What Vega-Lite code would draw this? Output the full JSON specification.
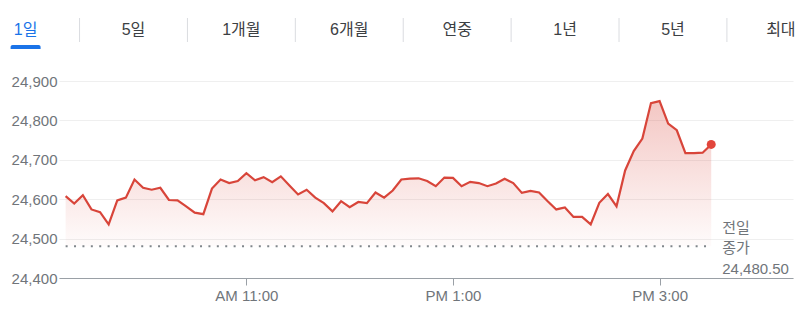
{
  "$schema": "https://vega.github.io/schema/vega-lite/v6.json",
  "background": "white",
  "padding": {"left": 10, "top": 17, "right": 16, "bottom": 5},
  "bounds": "flush",
  "spacing": 39,
  "config": {
    "view": {"stroke": null},
    "font": "Liberation Sans, Noto Sans CJK KR"
  },
  "datasets": {
    "tabs": [
      {"tab": "1일", "selected": true},
      {"tab": "5일", "selected": false},
      {"tab": "1개월", "selected": false},
      {"tab": "6개월", "selected": false},
      {"tab": "연중", "selected": false},
      {"tab": "1년", "selected": false},
      {"tab": "5년", "selected": false},
      {"tab": "최대", "selected": false}
    ],
    "prices": [
      {"time": "2020-06-01T09:15:00", "price": 24608}, {"time": "2020-06-01T09:20:00", "price": 24589}, {"time": "2020-06-01T09:25:00", "price": 24610},
      {"time": "2020-06-01T09:30:00", "price": 24574}, {"time": "2020-06-01T09:35:00", "price": 24567}, {"time": "2020-06-01T09:40:00", "price": 24536},
      {"time": "2020-06-01T09:45:00", "price": 24597}, {"time": "2020-06-01T09:50:00", "price": 24604}, {"time": "2020-06-01T09:55:00", "price": 24650},
      {"time": "2020-06-01T10:00:00", "price": 24629}, {"time": "2020-06-01T10:05:00", "price": 24624}, {"time": "2020-06-01T10:10:00", "price": 24629},
      {"time": "2020-06-01T10:15:00", "price": 24598}, {"time": "2020-06-01T10:20:00", "price": 24597}, {"time": "2020-06-01T10:25:00", "price": 24582},
      {"time": "2020-06-01T10:30:00", "price": 24566}, {"time": "2020-06-01T10:35:00", "price": 24562}, {"time": "2020-06-01T10:40:00", "price": 24627},
      {"time": "2020-06-01T10:45:00", "price": 24650}, {"time": "2020-06-01T10:50:00", "price": 24641}, {"time": "2020-06-01T10:55:00", "price": 24646},
      {"time": "2020-06-01T11:00:00", "price": 24666}, {"time": "2020-06-01T11:05:00", "price": 24648}, {"time": "2020-06-01T11:10:00", "price": 24656},
      {"time": "2020-06-01T11:15:00", "price": 24643}, {"time": "2020-06-01T11:20:00", "price": 24658}, {"time": "2020-06-01T11:25:00", "price": 24635},
      {"time": "2020-06-01T11:30:00", "price": 24612}, {"time": "2020-06-01T11:35:00", "price": 24624}, {"time": "2020-06-01T11:40:00", "price": 24604},
      {"time": "2020-06-01T11:45:00", "price": 24590}, {"time": "2020-06-01T11:50:00", "price": 24569}, {"time": "2020-06-01T11:55:00", "price": 24595},
      {"time": "2020-06-01T12:00:00", "price": 24580}, {"time": "2020-06-01T12:05:00", "price": 24593}, {"time": "2020-06-01T12:10:00", "price": 24590},
      {"time": "2020-06-01T12:15:00", "price": 24617}, {"time": "2020-06-01T12:20:00", "price": 24604}, {"time": "2020-06-01T12:25:00", "price": 24622},
      {"time": "2020-06-01T12:30:00", "price": 24650}, {"time": "2020-06-01T12:35:00", "price": 24652}, {"time": "2020-06-01T12:40:00", "price": 24653},
      {"time": "2020-06-01T12:45:00", "price": 24646}, {"time": "2020-06-01T12:50:00", "price": 24633}, {"time": "2020-06-01T12:55:00", "price": 24655},
      {"time": "2020-06-01T13:00:00", "price": 24654}, {"time": "2020-06-01T13:05:00", "price": 24633}, {"time": "2020-06-01T13:10:00", "price": 24644},
      {"time": "2020-06-01T13:15:00", "price": 24641}, {"time": "2020-06-01T13:20:00", "price": 24633}, {"time": "2020-06-01T13:25:00", "price": 24640},
      {"time": "2020-06-01T13:30:00", "price": 24652}, {"time": "2020-06-01T13:35:00", "price": 24641}, {"time": "2020-06-01T13:40:00", "price": 24616},
      {"time": "2020-06-01T13:45:00", "price": 24621}, {"time": "2020-06-01T13:50:00", "price": 24617}, {"time": "2020-06-01T13:55:00", "price": 24595},
      {"time": "2020-06-01T14:00:00", "price": 24574}, {"time": "2020-06-01T14:05:00", "price": 24579}, {"time": "2020-06-01T14:10:00", "price": 24555},
      {"time": "2020-06-01T14:15:00", "price": 24555}, {"time": "2020-06-01T14:20:00", "price": 24536}, {"time": "2020-06-01T14:25:00", "price": 24591},
      {"time": "2020-06-01T14:30:00", "price": 24613}, {"time": "2020-06-01T14:35:00", "price": 24582}, {"time": "2020-06-01T14:40:00", "price": 24673},
      {"time": "2020-06-01T14:45:00", "price": 24722}, {"time": "2020-06-01T14:50:00", "price": 24754}, {"time": "2020-06-01T14:55:00", "price": 24844},
      {"time": "2020-06-01T15:00:00", "price": 24849}, {"time": "2020-06-01T15:05:00", "price": 24792}, {"time": "2020-06-01T15:10:00", "price": 24775},
      {"time": "2020-06-01T15:15:00", "price": 24717}, {"time": "2020-06-01T15:20:00", "price": 24717}, {"time": "2020-06-01T15:25:00", "price": 24718},
      {"time": "2020-06-01T15:30:00", "price": 24739}
    ],
    "prevClose": [
      {"time": "2020-06-01T09:15:00", "end": "2020-06-01T15:30:00", "price": 24480.5}
    ],
    "prevLabel": [
      {"time": "2020-06-01T15:30:00", "price": 24480.5, "label": ["전일", "종가", "24,480.50"]}
    ]
  },
  "vconcat": [
    {
      "width": 734,
      "height": 24,
      "data": {"name": "tabs"},
      "encoding": {
        "x": {
          "field": "tab",
          "type": "nominal",
          "axis": null,
          "scale": {
            "domain": ["1일", "5일", "1개월", "6개월", "연중", "1년", "5년", "최대"],
            "range": [-87.35, 775.8],
            "paddingInner": 0,
            "paddingOuter": 0
          }
        }
      },
      "layer": [
        {
          "transform": [{"filter": "datum.tab !== '1일'"}],
          "mark": {"type": "rule", "color": "#dadce0", "strokeWidth": 1},
          "encoding": {
            "x": {"field": "tab", "type": "nominal", "bandPosition": 0}
          }
        },
        {
          "mark": {"type": "text", "fontSize": 16, "baseline": "middle", "align": "center"},
          "encoding": {
            "text": {"field": "tab"},
            "color": {"condition": {"test": "datum.selected", "value": "#1a73e8"}, "value": "#3c4043"}
          }
        },
        {
          "transform": [{"filter": "datum.selected"}],
          "mark": {
            "type": "tick",
            "orient": "horizontal",
            "thickness": 4,
            "size": 30,
            "color": "#1a73e8",
            "opacity": 1,
            "yOffset": 17,
            "cornerRadiusTopLeft": 3,
            "cornerRadiusTopRight": 3
          }
        }
      ]
    },
    {
      "width": 734,
      "height": 197,
      "encoding": {
        "x": {
          "field": "time",
          "type": "temporal",
          "scale": {
            "domain": [
              {"year": 2020, "month": 6, "date": 1, "hours": 9, "minutes": 11, "seconds": 9},
              {"year": 2020, "month": 6, "date": 1, "hours": 16, "minutes": 17, "seconds": 30}
            ]
          },
          "axis": {
            "title": null,
            "values": [
              {"year": 2020, "month": 6, "date": 1, "hours": 11},
              {"year": 2020, "month": 6, "date": 1, "hours": 13},
              {"year": 2020, "month": 6, "date": 1, "hours": 15}
            ],
            "format": "%p %-I:%M",
            "grid": false,
            "domainColor": "#9aa0a6",
            "tickColor": "#9aa0a6",
            "tickSize": 7,
            "labelFontSize": 15,
            "labelColor": "#70757a",
            "labelPadding": 3
          }
        },
        "y": {
          "field": "price",
          "type": "quantitative",
          "scale": {"domain": [24400, 24900], "zero": false, "nice": false},
          "axis": {
            "title": null,
            "values": [24400, 24500, 24600, 24700, 24800, 24900],
            "tickCount": 6,
            "format": ",d",
            "ticks": false,
            "domain": false,
            "labelOverlap": false,
            "gridColor": "#efefef",
            "labelFontSize": 15,
            "labelColor": "#70757a",
            "labelPadding": 2
          }
        }
      },
      "layer": [
        {
          "data": {"name": "prices"},
          "mark": {
            "type": "area",
            "color": {
              "gradient": "linear",
              "x1": 0, "y1": 0, "x2": 0, "y2": 1,
              "stops": [
                {"offset": 0, "color": "rgba(217,69,58,0.30)"},
                {"offset": 1, "color": "rgba(217,69,58,0.02)"}
              ]
            }
          },
          "encoding": {
            "y2": {"datum": 24480.5}
          }
        },
        {
          "data": {"name": "prices"},
          "mark": {"type": "line", "color": "#d8453a", "strokeWidth": 2.2}
        },
        {
          "data": {"name": "prices"},
          "transform": [{"filter": "hours(datum.time) === 15 && minutes(datum.time) === 30"}],
          "mark": {"type": "point", "filled": true, "size": 80, "color": "#e2453b", "opacity": 1}
        },
        {
          "data": {"name": "prevClose"},
          "mark": {"type": "rule", "color": "#80868b", "strokeWidth": 2, "strokeDash": [2, 6.4]},
          "encoding": {
            "x2": {"field": "end"}
          }
        },
        {
          "data": {"name": "prevLabel"},
          "mark": {
            "type": "text",
            "align": "left",
            "baseline": "middle",
            "dx": 11,
            "dy": -18.5,
            "fontSize": 15,
            "lineHeight": 20.5,
            "color": "#70757a"
          },
          "encoding": {
            "text": {"field": "label"}
          }
        }
      ]
    }
  ]
}
